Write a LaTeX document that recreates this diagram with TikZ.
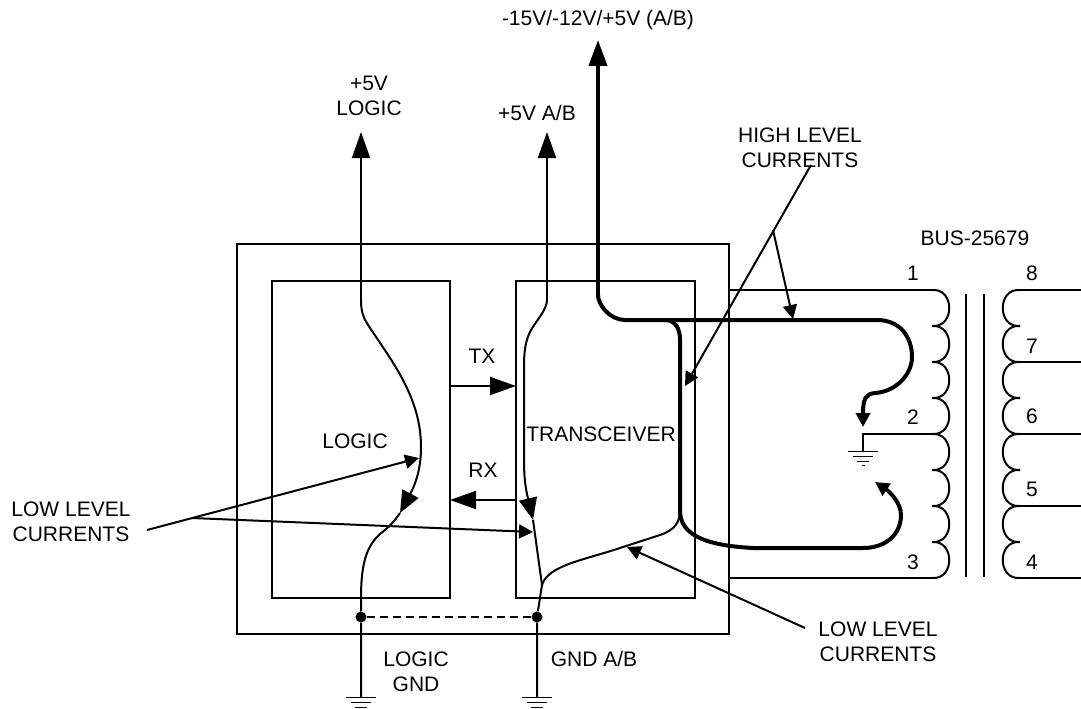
\documentclass[tikz,border=0pt]{standalone}
\usepackage{fontspec}
\setmainfont{Liberation Sans}
\usetikzlibrary{arrows.meta}
\tikzset{
    wire/.style={line width=2pt},
    heavy/.style={line width=4pt},
    bigtip/.style={-{Triangle[length=26pt,width=18pt]}},
    midtip/.style={-{Triangle[length=22pt,width=18pt]}},
    smalltip/.style={-{Triangle[length=14pt,width=14pt]}},
    dot/.style={circle, fill=black, inner sep=0pt, minimum size=11pt},
    pics/earth/.style={code={
        \draw[line width=1pt] (-15,0) -- (15,0);
        \draw[line width=1pt] (-10,5) -- (10,5);
        \draw[line width=1pt] (-6,10) -- (6,10);
        \draw[line width=1pt] (-1.5,14) -- (1.5,14);
    }}
}
\begin{document}
\begin{tikzpicture}[x=1pt, y=-1pt, every node/.style={inner sep=0pt, font=\fontsize{21pt}{24.5pt}\selectfont, align=center}]
    \useasboundingbox (0,0) rectangle (1081,709);

    \draw[wire] (237,244) rectangle (729,634);
    \draw[wire] (272,281) rectangle (450,598);
    \draw[wire] (516,281) rectangle (695,598);

    \node (logic) at (355,441) {LOGIC};
    \node (transceiver) at (601,434) {TRANSCEIVER};
    \node (tx) at (482,356) {TX};
    \node (rx) at (483,470) {RX};
    \node (supply) at (598,20) {-15V/-12V/+5V (A/B)};
    \node (plusfive) at (369,96) {+5V\\LOGIC};
    \node (plusfiveab) at (537,113) {+5V A/B};
    \node (high) at (800,148) {HIGH LEVEL\\CURRENTS};
    \node (bus) at (975,238) {BUS-25679};
    \node (lowl) at (71,522) {LOW LEVEL\\CURRENTS};
    \node (lowr) at (878,642) {LOW LEVEL\\CURRENTS};
    \node (logicgnd) at (416,672) {LOGIC\\GND};
    \node (gndab) at (594,659) {GND A/B};
    \node (p1) at (913,273) {1};
    \node (p2) at (913,417) {2};
    \node (p3) at (913,562) {3};
    \node (p4) at (1032,562) {4};
    \node (p5) at (1032,489) {5};
    \node (p6) at (1032,416) {6};
    \node (p7) at (1032,346) {7};
    \node (p8) at (1032,273) {8};

    \coordinate (txa) at (450,386);
    \coordinate (txb) at (516,386);
    \coordinate (rxa) at (516,500);
    \coordinate (rxb) at (450,500);
    \draw[wire, bigtip] (txa) -- (txb);
    \draw[wire, bigtip] (rxa) -- (rxb);

    \node[dot] (gl) at (361,617) {};
    \node[dot] (gr) at (537,617) {};
    \draw[wire, dashed, dash pattern=on 8pt off 5pt] (gl) -- (gr);

    \coordinate (la) at (361,300);
    \coordinate (lb) at (361,132);
    \coordinate (lc) at (400,513);
    \coordinate (ld) at (361,697);
    \draw[wire, bigtip] (la) -- (lb);
    \draw[wire, midtip] (la) .. controls (361,315) and (365,320) .. (370,328)
        .. controls (395,365) and (421,400) .. (421,447)
        .. controls (421,470) and (415,485) .. (lc);
    \draw[wire] (lc) .. controls (392,525) and (385,530) .. (380,534)
        .. controls (368,545) and (361,560) .. (361,598) -- (gl) -- (ld);
    \pic at (ld) {earth};

    \coordinate (ta) at (547,300);
    \coordinate (tb) at (547,132);
    \coordinate (tc) at (533,520);
    \coordinate (td) at (542,585);
    \coordinate (te) at (537,697);
    \coordinate (tf) at (680,510);
    \draw[wire, bigtip] (ta) -- (tb);
    \draw[wire, midtip] (ta) .. controls (547,310) and (535,322) .. (530,332)
        .. controls (526,340) and (524,350) .. (524,365) -- (524,460)
        .. controls (524,480) and (526,490) .. (tc);
    \draw[wire] (tc) -- (td) -- (gr) -- (te);
    \draw[wire] (tf) .. controls (680,522) and (675,530) .. (660,535)
        -- (623,547) .. controls (585,560) and (548,565) .. (td);
    \pic at (te) {earth};

    \coordinate (ha) at (598,295);
    \coordinate (hb) at (598,40);
    \coordinate (hc) at (665,320);
    \coordinate (hd) at (863,427);
    \coordinate (he) at (875,482);
    \draw[heavy, bigtip] (ha) -- (hb);
    \draw[heavy, -{Triangle[length=14pt,width=14pt]}] (ha) .. controls (598,305) and (610,320) .. (625,320)
        -- (877,320) .. controls (900,320) and (912,337) .. (912,357)
        .. controls (912,375) and (895,392) .. (875,393)
        .. controls (866,394) and (863,398) .. (hd);
    \draw[heavy, -{Triangle[length=14pt,width=14pt]}] (hc) .. controls (675,320) and (680,328) .. (680,340)
        -- (tf) .. controls (680,530) and (695,545) .. (753,548)
        -- (863,548) .. controls (885,548) and (901,535) .. (901,515)
        .. controls (901,503) and (890,492) .. (he);

    \foreach \i in {0,...,8} {
        \coordinate (cl\i) at (932,{290+36*\i});
        \coordinate (cr\i) at (1020,{290+36*\i});
    }
    \foreach \i/\j in {0/1,1/2,2/3,3/4,4/5,5/6,6/7,7/8} {
        \draw[wire] (cl\i) .. controls +(23,-2) and +(23,2) .. (cl\j);
        \draw[wire] (cr\i) .. controls +(-23,-2) and +(-23,2) .. (cr\j);
    }

    \coordinate (outa) at (729,290);
    \coordinate (outb) at (729,578);
    \draw[wire] (outa) -- (cl0);
    \draw[wire] (outb) -- (cl8);
    \coordinate (tap) at (863,434);
    \coordinate (tapg) at (863,451);
    \draw[wire] (cl4) -- (tap) -- (tapg);
    \pic at (tapg) {earth};

    \foreach \i in {0,2,4,6,8} {
        \coordinate (edge\i) at (1081,{290+36*\i});
        \draw[wire] (cr\i) -- (edge\i);
    }

    \coordinate (corea) at (966,294);
    \coordinate (coreb) at (966,577);
    \coordinate (corec) at (984,294);
    \coordinate (cored) at (984,577);
    \draw[wire] (corea) -- (coreb);
    \draw[wire] (corec) -- (cored);

    \coordinate (hl) at (811,165);
    \coordinate (hm) at (685,386);
    \coordinate (hn) at (773,230);
    \coordinate (ho) at (793,319);
    \draw[wire, smalltip] (hl) -- (hm);
    \draw[wire, smalltip] (hn) -- (ho);

    \coordinate (ll) at (147,530);
    \coordinate (lm) at (192,518);
    \coordinate (ln) at (419,458);
    \coordinate (lo) at (533,532);
    \draw[wire, smalltip] (ll) -- (ln);
    \draw[wire, smalltip] (lm) -- (lo);

    \coordinate (rl) at (805,628);
    \coordinate (rm) at (627,547);
    \draw[wire, smalltip] (rl) -- (rm);
\end{tikzpicture}
\end{document}
